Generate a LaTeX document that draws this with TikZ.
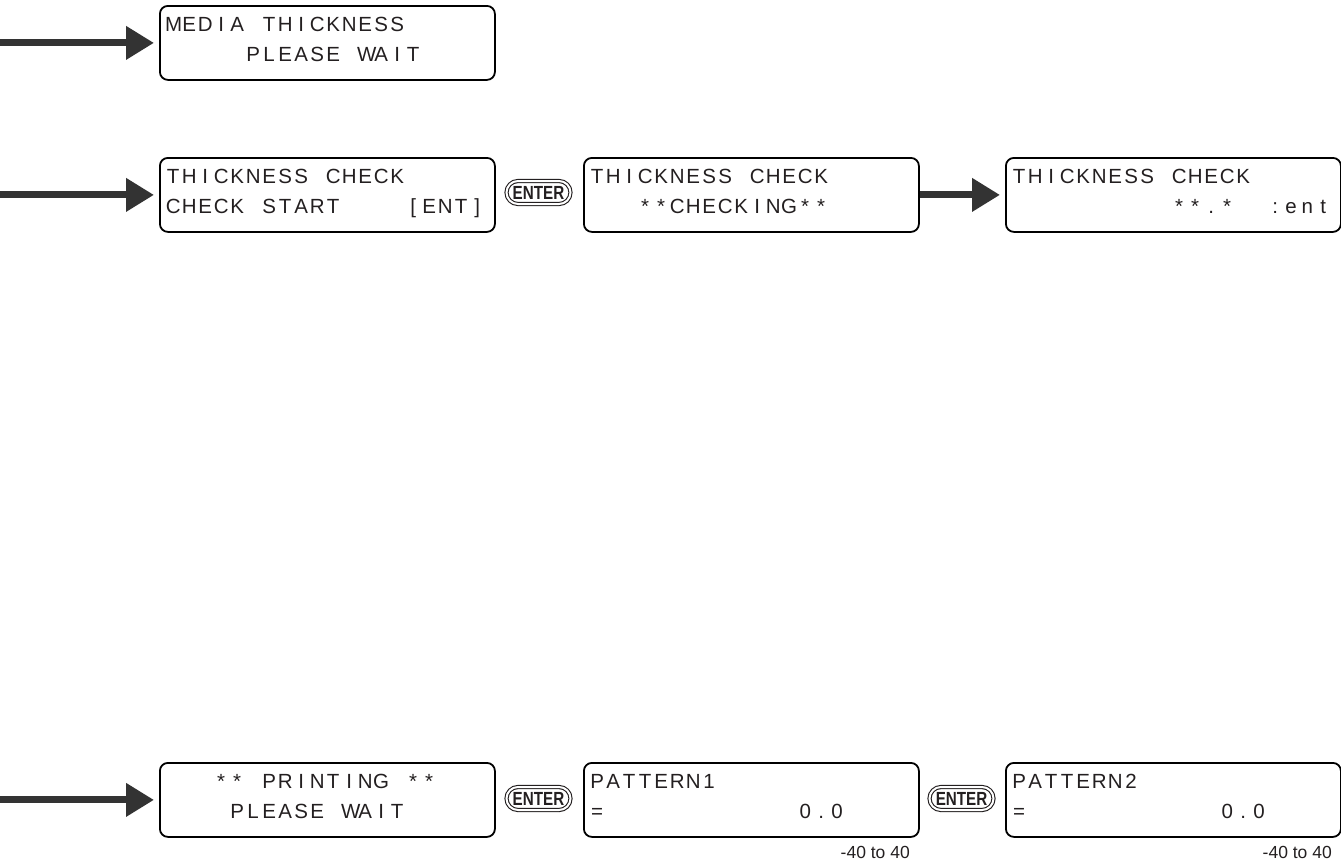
\documentclass[tikz,border=0pt]{standalone}
\usepackage{fontspec}
\setmainfont{Liberation Sans}
\usetikzlibrary{arrows.meta}
\definecolor{arrowgray}{RGB}{51,51,51}
\definecolor{inkblack}{RGB}{35,31,32}
\ExplSyntaxOn
\NewDocumentCommand\lcdline{m}{
  \str_map_inline:nn {#1}{
    \str_if_eq:nnTF {##1}{_}
      {\hbox_to_wd:nn{16pt}{\hfil}}
      {\hbox_to_wd:nn{16pt}{\hfil ##1\hfil}}
  }
}
\ExplSyntaxOff
\newcommand\lcdbox[5]{%
  \node[lcd, anchor=north west] (#1) at (#2,#3) {};
  \node[lcdtxt, anchor=base west] (#1-l1) at ([shift={(6,26.5)}]#1.north west) {\lcdline{#4}};
  \node[lcdtxt, anchor=base west] (#1-l2) at ([shift={(6,56)}]#1.north west) {\lcdline{#5}};
}
\begin{document}
\begin{tikzpicture}[x=1pt, y=-1pt,
  lcd/.style={draw=black, line width=1.8pt, rounded corners=8pt,
    minimum width=335pt, minimum height=74pt, inner sep=0pt},
  lcdtxt/.style={inner sep=0pt, text=inkblack, font=\fontsize{20.5}{20.5}\selectfont},
  enterbtn/.style={draw=inkblack, double=white, double distance=2pt, line width=1.1pt,
    rounded corners=11.5pt, minimum width=64pt, minimum height=23pt, inner sep=0pt,
    text=inkblack, font=\bfseries\fontsize{19}{19}\selectfont},
  arr/.style={draw=arrowgray, line width=7pt,
    -{Triangle[length=28pt 0, width=32pt 0]}, shorten >=5pt},
  rangelbl/.style={inner sep=0pt, text=inkblack, font=\fontsize{17.5}{17.5}\selectfont}
]
\useasboundingbox (0,0) rectangle (1341,865);

% Row 1
\lcdbox{a1}{159}{5}{MEDIA_THICKNESS}{_____PLEASE_WAIT}
\coordinate (s1) at (0,0 |- a1.west);
\draw[arr] (s1) -- (a1.west);

% Row 2
\lcdbox{a2}{159}{157}{THICKNESS_CHECK}{CHECK_START____[ENT]}
\lcdbox{b2}{583}{157}{THICKNESS_CHECK}{___**CHECKING**}
\lcdbox{c2}{1005}{157}{THICKNESS_CHECK}{__________**.*__:ent}
\coordinate (s2) at (0,0 |- a2.west);
\draw[arr] (s2) -- (a2.west);
\node[enterbtn] (e2) at (538.5,192.5) {\scalebox{0.8}[1]{ENTER}};
\draw[arr] (b2.east) -- (c2.west);

% Row 3
\lcdbox{a3}{159}{762}{___**_PRINTING_**}{____PLEASE_WAIT}
\lcdbox{b3}{583}{762}{PATTERN1}{=____________0.0}
\lcdbox{c3}{1005}{762}{PATTERN2}{=____________0.0}
\coordinate (s3) at (0,0 |- a3.west);
\draw[arr] (s3) -- (a3.west);
\node[enterbtn] (e3a) at (538.5,798.5) {\scalebox{0.8}[1]{ENTER}};
\node[enterbtn] (e3b) at (961.5,798.5) {\scalebox{0.8}[1]{ENTER}};
\node[rangelbl, anchor=base east] (r1) at (910,858) {-40 to 40};
\node[rangelbl, anchor=base east] (r2) at (1332,858) {-40 to 40};
\end{tikzpicture}
\end{document}
